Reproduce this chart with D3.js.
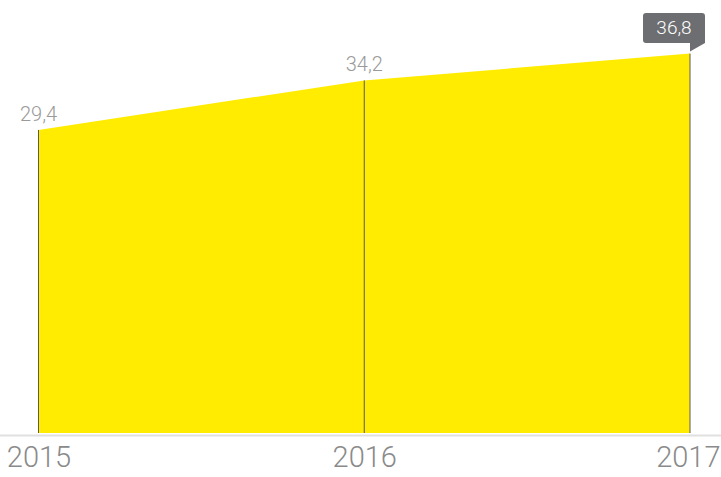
<!DOCTYPE html>
<html><head><meta charset="utf-8">
<script src="https://cdn.jsdelivr.net/npm/d3@7"></script>
<style>
html,body{margin:0;padding:0;background:#fff;}
svg{display:block;}
</style></head>
<body>
<svg id="chart" width="721" height="477"></svg>
<script>
const years = ["2015", "2016", "2017"];
const values = [29.4, 34.2, 36.8];
const valueLabels = ["29,4", "34,2", "36,8"];

const svg = d3.select("#chart");
const x = d3.scalePoint().domain(years).range([38.5, 690]);
const y = d3.scaleLinear().domain([0, 42]).range([433, 0]);
const data = years.map((yr, i) => ({yr, v: values[i], label: valueLabels[i]}));

const area = d3.area().x(d => x(d.yr)).y0(y(0)).y1(d => y(d.v));
svg.append("path").datum(data).attr("d", area).attr("fill", "#ffec00");

// vertical lines
svg.selectAll("line.v").data(data).enter().append("line")
  .attr("x1", d => x(d.yr)).attr("x2", d => x(d.yr))
  .attr("y1", d => y(d.v)).attr("y2", y(0))
  .attr("stroke", "#5a5a5a").attr("stroke-width", 1);

// baseline
svg.append("line").attr("x1", 0).attr("x2", 721)
  .attr("y1", 435.5).attr("y2", 435.5)
  .attr("stroke", "#e0e0e0").attr("stroke-width", 2);

// x axis labels
const xAxis = d3.axisBottom(x).tickSize(0).tickPadding(0);
const ax = svg.append("g").attr("transform", "translate(0,446)").call(xAxis);
ax.select(".domain").remove();
ax.selectAll("text")
  .attr("font-family", "Roboto, 'Liberation Sans', sans-serif")
  .attr("font-weight", 300)
  .attr("font-size", 29)
  .attr("fill", "#8a8a8a")
  .attr("dy", "0.71em");
// keep the last label inside the frame
ax.selectAll(".tick").filter((d, i, n) => i === n.length - 1).select("text")
  .attr("text-anchor", "end").attr("x", 720 - x(years[years.length - 1]));

// value labels (non-last)
const last = data[data.length - 1];
svg.selectAll("text.val").data(data.slice(0, -1)).enter().append("text")
  .attr("x", d => x(d.yr)).attr("y", d => y(d.v) - 9)
  .attr("text-anchor", "middle")
  .attr("font-family", "Roboto, 'Liberation Sans', sans-serif")
  .attr("font-weight", 300)
  .attr("font-size", 20)
  .attr("fill", "#9a9a9a")
  .text(d => d.label);

// callout for last value
const lx = x(last.yr), ly = y(last.v);
const bx0 = 643, bx1 = 705, by0 = 13, by1 = 43, r = 3;
const calloutPath = `M${bx0 + r},${by0} L${bx1 - r},${by0} Q${bx1},${by0} ${bx1},${by0 + r} L${bx1},${by1} L${lx},${ly - 2} L${lx},${by1} L${bx0 + r},${by1} Q${bx0},${by1} ${bx0},${by1 - r} L${bx0},${by0 + r} Q${bx0},${by0} ${bx0 + r},${by0} Z`;
svg.append("path").attr("d", calloutPath).attr("fill", "#6d6e71");
svg.append("text").attr("x", (bx0 + bx1) / 2).attr("y", 34)
  .attr("text-anchor", "middle")
  .attr("font-family", "Roboto, 'Liberation Sans', sans-serif")
  .attr("font-weight", 300)
  .attr("font-size", 19)
  .attr("fill", "#ffffff")
  .text(last.label);
</script>
</body></html>
